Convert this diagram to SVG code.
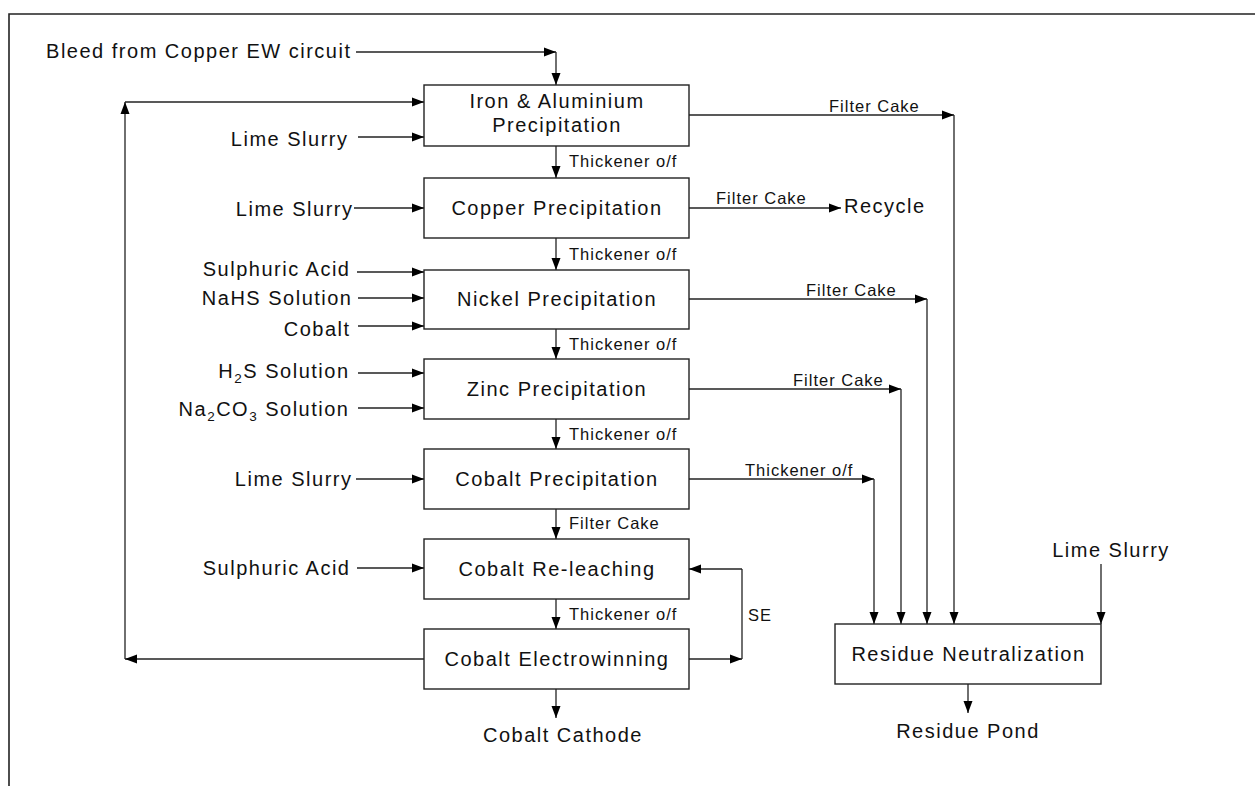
<svg xmlns="http://www.w3.org/2000/svg" width="1255" height="786" viewBox="0 0 1255 786">
<defs>
<marker id="ah" markerUnits="userSpaceOnUse" markerWidth="12" markerHeight="9" refX="12" refY="4.5" orient="auto" overflow="visible">
<path d="M0,0 L12,4.5 L0,9 z" fill="#000"/>
</marker>
<style>
text{font-family:"Liberation Sans",Arial,sans-serif;fill:#111;}
.b{font-size:20px;letter-spacing:1.5px;}
.s{font-size:16.5px;letter-spacing:1px;}
.sub{font-size:13.5px;}
.box{fill:#fff;stroke:#222;stroke-width:1.4;}
.c path{fill:none;stroke:#222;stroke-width:1.3;}
.c .a{marker-end:url(#ah);}
</style>
</defs>
<rect width="1255" height="786" fill="#fff"/>
<path d="M9,786 V14 H1255" fill="none" stroke="#222" stroke-width="1.6"/>

<g id="connectors" class="c">
<path class="a" d="M356,52 H556"/>
<path class="a" d="M556,52 V85"/>
<path class="a" d="M424,659 H125"/>
<path class="a" d="M125,659 V102"/>
<path class="a" d="M125,102 H424"/>
<path class="a" d="M358,137 H424"/>
<path class="a" d="M354,208 H424"/>
<path class="a" d="M357,272 H424"/>
<path class="a" d="M358,298 H424"/>
<path class="a" d="M358,326 H424"/>
<path class="a" d="M358,373 H424"/>
<path class="a" d="M358,408 H424"/>
<path class="a" d="M356,479 H424"/>
<path class="a" d="M357,568 H424"/>
<path class="a" d="M556,146 V178"/>
<path class="a" d="M556,238 V270"/>
<path class="a" d="M556,329 V359"/>
<path class="a" d="M556,419 V449"/>
<path class="a" d="M556,509 V539"/>
<path class="a" d="M556,599 V629"/>
<path class="a" d="M556,689 V718"/>
<path class="a" d="M689,659 H742"/>
<path d="M742,659 V569"/>
<path class="a" d="M742,569 H689"/>
<path class="a" d="M689,208 H841"/>
<path class="a" d="M689,115 H954"/>
<path class="a" d="M954,115 V624"/>
<path class="a" d="M689,299 H927"/>
<path class="a" d="M927,299 V624"/>
<path class="a" d="M689,389 H901"/>
<path class="a" d="M901,389 V624"/>
<path class="a" d="M689,479 H874"/>
<path class="a" d="M874,479 V624"/>
<path class="a" d="M1101,564 V624"/>
<path class="a" d="M968,684 V713"/>
</g>

<g id="labels">
<text class="b" x="351.5" y="58" text-anchor="end">Bleed from Copper EW circuit</text>
<text class="b" x="348.5" y="146" text-anchor="end">Lime Slurry</text>
<text class="b" x="353.5" y="216" text-anchor="end">Lime Slurry</text>
<text class="b" x="350.5" y="276" text-anchor="end">Sulphuric Acid</text>
<text class="b" x="352.5" y="305" text-anchor="end">NaHS Solution</text>
<text class="b" x="350.5" y="336" text-anchor="end">Cobalt</text>
<text class="b" x="349.5" y="378" text-anchor="end">H<tspan class="sub" dy="5">2</tspan><tspan dy="-5">S Solution</tspan></text>
<text class="b" x="349.5" y="416" text-anchor="end">Na<tspan class="sub" dy="5">2</tspan><tspan dy="-5">CO</tspan><tspan class="sub" dy="5">3</tspan><tspan dy="-5"> Solution</tspan></text>
<text class="b" x="352.5" y="486" text-anchor="end">Lime Slurry</text>
<text class="b" x="350.5" y="575" text-anchor="end">Sulphuric Acid</text>
<text class="s" x="569" y="167">Thickener o/f</text>
<text class="s" x="569" y="260">Thickener o/f</text>
<text class="s" x="569" y="350">Thickener o/f</text>
<text class="s" x="569" y="440">Thickener o/f</text>
<text class="s" x="569" y="529">Filter Cake</text>
<text class="s" x="569" y="620">Thickener o/f</text>
<text class="s" x="748" y="621">SE</text>
<text class="s" x="829" y="112">Filter Cake</text>
<text class="s" x="716" y="204">Filter Cake</text>
<text class="b" x="844" y="213">Recycle</text>
<text class="s" x="806" y="296">Filter Cake</text>
<text class="s" x="793" y="386">Filter Cake</text>
<text class="s" x="745" y="476">Thickener o/f</text>
<text class="b" x="1111" y="557" text-anchor="middle">Lime Slurry</text>
<text class="b" x="483" y="742">Cobalt Cathode</text>
<text class="b" x="968" y="738" text-anchor="middle">Residue Pond</text>
</g>

<g id="n-iron">
<rect class="box" x="424" y="85" width="265" height="61"/>
<text class="b" x="557" y="108" text-anchor="middle">Iron &amp; Aluminium</text>
<text class="b" x="557" y="132" text-anchor="middle">Precipitation</text>
</g>
<g id="n-copper">
<rect class="box" x="424" y="178" width="265" height="60"/>
<text class="b" x="557" y="215" text-anchor="middle">Copper Precipitation</text>
</g>
<g id="n-nickel">
<rect class="box" x="424" y="270" width="265" height="59"/>
<text class="b" x="557" y="306" text-anchor="middle">Nickel Precipitation</text>
</g>
<g id="n-zinc">
<rect class="box" x="424" y="359" width="265" height="60"/>
<text class="b" x="557" y="396" text-anchor="middle">Zinc Precipitation</text>
</g>
<g id="n-cobalt-prec">
<rect class="box" x="424" y="449" width="265" height="60"/>
<text class="b" x="557" y="486" text-anchor="middle">Cobalt Precipitation</text>
</g>
<g id="n-releach">
<rect class="box" x="424" y="539" width="265" height="60"/>
<text class="b" x="557" y="576" text-anchor="middle">Cobalt Re-leaching</text>
</g>
<g id="n-ew">
<rect class="box" x="424" y="629" width="265" height="60"/>
<text class="b" x="557" y="666" text-anchor="middle">Cobalt Electrowinning</text>
</g>
<g id="n-residue">
<rect class="box" x="835" y="624" width="266" height="60"/>
<text class="b" x="968.5" y="661" text-anchor="middle">Residue Neutralization</text>
</g>
</svg>
